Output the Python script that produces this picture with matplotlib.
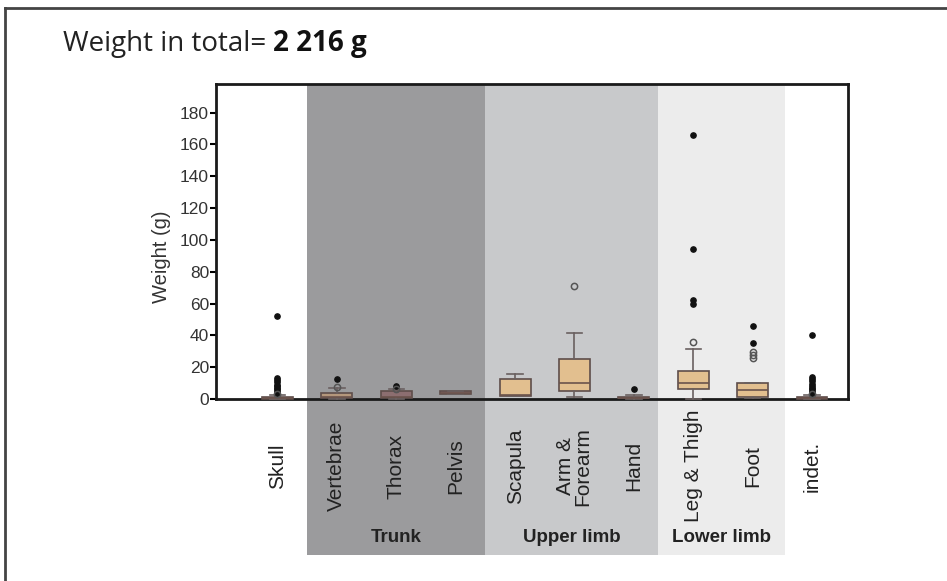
import matplotlib.pyplot as plt
from matplotlib.lines import Line2D
from matplotlib.patches import Rectangle

categories = ['Skull', 'Vertebrae', 'Thorax', 'Pelvis', 'Scapula',
              'Arm &\nForearm', 'Hand', 'Leg & Thigh', 'Foot', 'indet.']
q1 = [0.2, 0.3, 0.5, 3.0, 2.0, 5.0, 0.3, 6.0, 1.5, 0.2]
med = [0.5, 1.0, 1.5, 3.8, 2.5, 10.0, 0.8, 10.0, 5.7, 0.6]
q3 = [1.0, 3.6, 5.2, 4.8, 12.3, 25.4, 1.5, 17.6, 9.9, 1.3]
whislo = [0.0, 0.0, 0.0, 3.0, 1.8, 1.5, 0.0, 0.0, 0.5, 0.0]
whishi = [2.5, 7.0, 6.0, 4.8, 15.5, 41.5, 2.5, 31.7, 9.9, 2.8]
# extreme values (filled dots) and outliers (open circles)
extremes = [[52, 13, 12, 10.5, 9, 8, 7, 6, 5, 4], [12.5], [8.2], [], [], [],
            [6], [166, 94, 62, 59.5], [46, 35],
            [40, 14, 12.5, 11, 9.5, 8, 7, 6, 5, 4]]
outliers = [[3], [7.5], [6], [], [], [71], [], [36], [29.5, 27.5, 25.5], [3]]

groups = ['Trunk', 'Upper limb', 'Lower limb']
group_span = [(0.5, 3.5), (3.5, 6.4), (6.4, 8.55)]
group_color = ['#9b9b9d', '#c8c9cb', '#ececec']

box_face = ['#6f5a55', '#b4977c', '#8c6e70', '#8c6e70', '#e2bf8f',
            '#e2bf8f', '#5a4a48', '#e2bf8f', '#e2bf8f', '#5a4a48']

plt.rcParams['font.family'] = ['Liberation Sans', 'DejaVu Sans']

fig = plt.figure(figsize=(9.47, 5.81), dpi=100)
ax = fig.add_axes([0.2281, 0.3133, 0.6674, 0.5422])

pos = list(range(len(categories)))

# background bands, continued below the axes
for (a, b), c in zip(group_span, group_color):
    ax.add_patch(Rectangle((a, -0.495), b - a, 1.495, transform=ax.get_xaxis_transform(),
                           facecolor=c, edgecolor='none', clip_on=False, zorder=0))

stats = []
for i in pos:
    stats.append(dict(med=med[i], q1=q1[i], q3=q3[i], whislo=whislo[i],
                      whishi=whishi[i], fliers=[]))
bp = ax.bxp(stats, positions=pos, widths=0.52, patch_artist=True, showfliers=False,
            boxprops=dict(linewidth=1.2, edgecolor='#5e4d4a'),
            medianprops=dict(color='#6b534c', linewidth=1.2),
            whiskerprops=dict(color='#6a6060', linewidth=1.2),
            capprops=dict(color='#6a6060', linewidth=1.2))
for patch, fc in zip(bp['boxes'], box_face):
    patch.set_facecolor(fc)
for art in bp['boxes'] + bp['medians'] + bp['whiskers'] + bp['caps']:
    art.set_clip_on(False)
    art.set_zorder(3)

for i in pos:
    if extremes[i]:
        ax.plot([i] * len(extremes[i]), extremes[i], 'o', color='#111111',
                markersize=3.8, zorder=4, clip_on=False)
    if outliers[i]:
        ax.plot([i] * len(outliers[i]), outliers[i], 'o', markerfacecolor='none',
                markeredgecolor='#555555', markersize=4.5, markeredgewidth=1.1, zorder=4)

ax.set_xlim(-1.035, 9.606)
ax.set_ylim(0, 198)
ax.set_facecolor('none')
ax.set_yticks(range(0, 181, 20))
ax.tick_params(axis='y', direction='out', length=4, width=1.5, labelsize=12.5,
               labelcolor='#333333', pad=1)
ax.set_xticks([])
for s in ax.spines.values():
    s.set_linewidth(2)
    s.set_color('#1a1a1a')
ax.set_ylabel('Weight (g)', fontsize=14.5, color='#333333')
ax.yaxis.set_label_coords(-0.072, 0.45)

for i, lab in zip(pos, categories):
    ax.text(i, -0.213, lab, transform=ax.get_xaxis_transform(), rotation=90,
            ha='center', va='center', fontsize=15, color='#222222',
            linespacing=0.9, multialignment='center')

for (a, b), g in zip(group_span, groups):
    ax.text((a + b) / 2, -0.44, g, transform=ax.get_xaxis_transform(),
            ha='center', va='center', fontsize=13.5, fontweight='bold', color='#222222')

t = fig.text(0.066, 0.924, 'Weight in total= ', fontsize=20, family='Open Sans',
             color='#222222', va='center')
ax.annotate('2 216 g', xy=(1, 0), xycoords=t, va='bottom', ha='left', fontsize=20,
            family='Open Sans', fontweight='bold', color='#111111', annotation_clip=False)

fig.lines.append(Line2D([0.0058, 0.0058], [0, 0.986], transform=fig.transFigure,
                        color='#444444', linewidth=2))
fig.lines.append(Line2D([0.0058, 1], [0.986, 0.986], transform=fig.transFigure,
                        color='#444444', linewidth=2))

fig.savefig('out.png', dpi=100)
